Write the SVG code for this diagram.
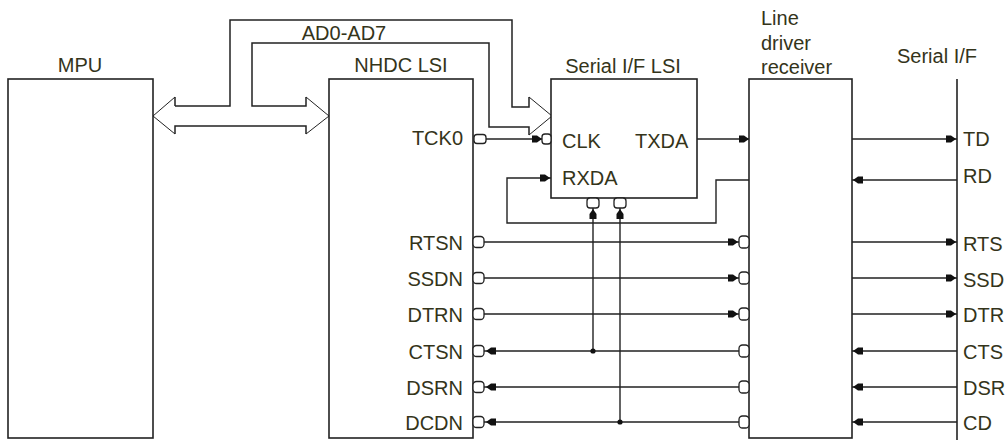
<svg xmlns="http://www.w3.org/2000/svg" xmlns:xlink="http://www.w3.org/1999/xlink" width="1008" height="440" viewBox="0 0 1008 440">
<style>
.box{fill:#fff;stroke:#222;stroke-width:1.6}
.ln{fill:none;stroke:#222;stroke-width:1.4}
.bus{fill:none;stroke:#222;stroke-width:1.5}
.diag{fill:none;stroke:#222;stroke-width:1}
.pin{fill:#fff;stroke:#222;stroke-width:1.3}
.dot{fill:#111}
.ah{fill:#111}
text{font-family:"Liberation Sans",Arial,Helvetica,sans-serif;font-size:20px;fill:#34341a}
.m{text-anchor:middle}
.e{text-anchor:end}
</style>
<defs>
<path id="ar" d="M0,0 L-5,-3.5 L-10,-3.5 L-10,3.5 L-5,3.5 Z"/>
</defs>
<rect width="1008" height="440" fill="#fff"/>

<g id="connectors">
  <g id="bus">
    <path class="bus" d="M175,106 H230 V20 H512 V107 H529 V97 M529,135 V127 H489 V43 H252 V106 H306 V97 M306,134 V126 H175 V134 M175,97 V106"/>
    <path class="diag" d="M529,97 L552,116 L529,135 M306,97 L329,116 L306,134 M175,97 L153,116 L175,134"/>
  </g>
  <g id="wires" class="ln">
    <path d="M486,139 H542"/>
    <path d="M697,139 H749"/>
    <path d="M852,139 H957"/>
    <path d="M852,180 H957"/>
    <path d="M749,180 H716 V223 H507 V178 H551"/>
    <path d="M593,208 V351"/>
    <path d="M620,208 V422"/>
    <path d="M484,242 H739 M852,242 H957"/>
    <path d="M484,278 H739 M852,278 H957"/>
    <path d="M484,314 H739 M852,314 H957"/>
    <path d="M484,351 H739 M852,351 H957"/>
    <path d="M484,387 H739 M852,387 H957"/>
    <path d="M484,422 H739 M852,422 H957"/>
  </g>
  <g id="arrowheads" class="ah">
    <use xlink:href="#ar" href="#ar" transform="translate(542,139)"/>
    <use xlink:href="#ar" href="#ar" transform="translate(749,139)"/>
    <use xlink:href="#ar" href="#ar" transform="translate(956,139)"/>
    <use xlink:href="#ar" href="#ar" transform="translate(853,180) rotate(180)"/>
    <use xlink:href="#ar" href="#ar" transform="translate(550,178)"/>
    <use xlink:href="#ar" href="#ar" transform="translate(593,209) rotate(-90)"/>
    <use xlink:href="#ar" href="#ar" transform="translate(620,209) rotate(-90)"/>
    <use xlink:href="#ar" href="#ar" transform="translate(738,242)"/>
    <use xlink:href="#ar" href="#ar" transform="translate(738,278)"/>
    <use xlink:href="#ar" href="#ar" transform="translate(738,314)"/>
    <use xlink:href="#ar" href="#ar" transform="translate(956,242)"/>
    <use xlink:href="#ar" href="#ar" transform="translate(956,278)"/>
    <use xlink:href="#ar" href="#ar" transform="translate(956,314)"/>
    <use xlink:href="#ar" href="#ar" transform="translate(486,351) rotate(180)"/>
    <use xlink:href="#ar" href="#ar" transform="translate(486,387) rotate(180)"/>
    <use xlink:href="#ar" href="#ar" transform="translate(486,422) rotate(180)"/>
    <use xlink:href="#ar" href="#ar" transform="translate(853,351) rotate(180)"/>
    <use xlink:href="#ar" href="#ar" transform="translate(853,387) rotate(180)"/>
    <use xlink:href="#ar" href="#ar" transform="translate(853,422) rotate(180)"/>
  </g>
  <g id="junctions">
    <circle class="dot" cx="593" cy="351" r="2.6"/>
    <circle class="dot" cx="620" cy="422" r="2.6"/>
  </g>
  <text x="344" y="40" class="m">AD0-AD7</text>
</g>

<g id="mpu">
  <rect class="box" x="8" y="79" width="145" height="359"/>
  <text x="80" y="72" class="m">MPU</text>
</g>

<g id="nhdc-lsi">
  <rect class="box" x="329" y="79" width="144" height="359"/>
  <text x="401" y="72" class="m">NHDC LSI</text>
  <text x="463" y="145" class="e">TCK0</text>
  <text x="463" y="250" class="e">RTSN</text>
  <text x="463" y="286" class="e">SSDN</text>
  <text x="463" y="322" class="e">DTRN</text>
  <text x="463" y="359" class="e">CTSN</text>
  <text x="463" y="395" class="e">DSRN</text>
  <text x="463" y="430" class="e">DCDN</text>
  <rect class="pin" x="474" y="134.5" width="12" height="9" rx="3"/>
  <rect class="pin" x="473" y="236.5" width="11" height="11" rx="3.5"/>
  <rect class="pin" x="473" y="272.5" width="11" height="11" rx="3.5"/>
  <rect class="pin" x="473" y="308.5" width="11" height="11" rx="3.5"/>
  <rect class="pin" x="473" y="345.5" width="11" height="11" rx="3.5"/>
  <rect class="pin" x="473" y="381.5" width="11" height="11" rx="3.5"/>
  <rect class="pin" x="473" y="416.5" width="11" height="11" rx="3.5"/>
</g>

<g id="serial-if-lsi">
  <rect class="box" x="551" y="79" width="146" height="119"/>
  <text x="623" y="73" class="m">Serial I/F LSI</text>
  <text x="562" y="148">CLK</text>
  <text x="635" y="148">TXDA</text>
  <text x="562" y="185">RXDA</text>
  <rect class="pin" x="542" y="134" width="9" height="10" rx="3"/>
  <rect class="pin" x="587" y="198" width="12" height="10" rx="3"/>
  <rect class="pin" x="614" y="198" width="12" height="10" rx="3"/>
</g>

<g id="line-driver-receiver">
  <rect class="box" x="749" y="79" width="103" height="359"/>
  <text x="761" y="25">Line</text>
  <text x="761" y="50">driver</text>
  <text x="761" y="74">receiver</text>
  <rect class="pin" x="739" y="236" width="10" height="12" rx="3.5"/>
  <rect class="pin" x="739" y="272" width="10" height="12" rx="3.5"/>
  <rect class="pin" x="739" y="308" width="10" height="12" rx="3.5"/>
  <rect class="pin" x="739" y="345" width="10" height="12" rx="3.5"/>
  <rect class="pin" x="739" y="381" width="10" height="12" rx="3.5"/>
  <rect class="pin" x="739" y="416" width="10" height="12" rx="3.5"/>
</g>

<g id="serial-if">
  <path class="ln" d="M957,79 V440" style="stroke-width:1.6"/>
  <text x="937" y="63" class="m">Serial I/F</text>
  <text x="963" y="146">TD</text>
  <text x="963" y="183">RD</text>
  <text x="963" y="251">RTS</text>
  <text x="963" y="287">SSD</text>
  <text x="963" y="322">DTR</text>
  <text x="963" y="359">CTS</text>
  <text x="963" y="395">DSR</text>
  <text x="963" y="430">CD</text>
</g>
</svg>
